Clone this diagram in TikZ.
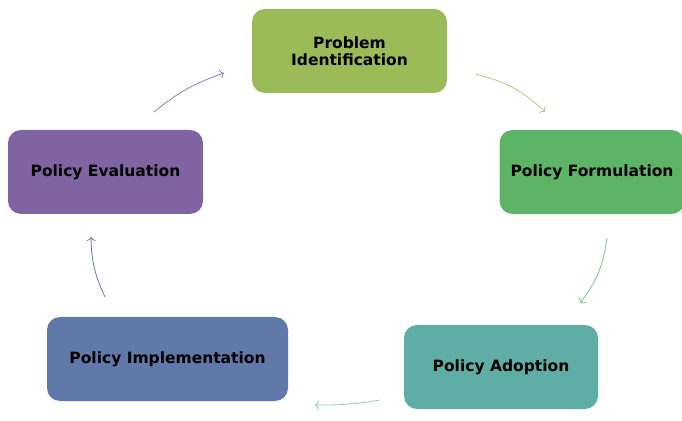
\documentclass[tikz,border=0pt]{standalone}
\usepackage{fontspec}
\setsansfont{DejaVu Sans}
\usepackage{tikz}
\usetikzlibrary{arrows,arrows.meta,positioning}

\definecolor{cIdent}{HTML}{9BBB59}
\definecolor{cForm}{HTML}{5DB467}
\definecolor{cAdopt}{HTML}{5FAEA5}
\definecolor{cImpl}{HTML}{6079A9}
\definecolor{cEval}{HTML}{8064A2}

\begin{document}
\begin{tikzpicture}[x=1pt, y=1pt]
			\tikzstyle{Stage}	= [rounded corners=13pt, inner sep=0pt, minimum height=84pt, align=center, font=\sffamily\bfseries\fontsize{15.5}{17}\selectfont]
			\tikzstyle{Flow}	= [-{To[length=4pt,width=9pt]}, line width=0.8pt]

			\useasboundingbox (0,0) rectangle (682,420);

			\node (pid) at (349.5, 369) [Stage, fill=cIdent, minimum width=195pt] {Problem\\Identification};
			\node (pf)  at (592, 248) [Stage, fill=cForm, minimum width=185pt] {Policy Formulation};
			\node (pa)  at (501, 53) [Stage, fill=cAdopt, minimum width=194pt] {Policy Adoption};
			\node (pim) at (167.5, 61) [Stage, fill=cImpl, minimum width=241pt] {Policy Implementation};
			\node (pev) at (105.5, 248) [Stage, fill=cEval, minimum width=195pt] {Policy Evaluation};

			% free ends of the cycle arrows
			\coordinate (a1s) at (475, 346); \coordinate (a1e) at (545, 308);
			\coordinate (a2s) at (607, 182); \coordinate (a2e) at (580, 117);
			\coordinate (a3s) at (380, 20);  \coordinate (a3e) at (315, 15);
			\coordinate (a4s) at (105, 123); \coordinate (a4e) at (91, 183);
			\coordinate (a5s) at (154, 308); \coordinate (a5e) at (224, 347);

			\draw [Flow, draw=cIdent!75] (a1s) to[bend left=15] (a1e);
			\draw [Flow, draw=cForm!80] (a2s) to[bend left=15] (a2e);
			\draw [Flow, draw=cAdopt!70] (a3s) to[bend left=5] (a3e);
			\draw [Flow, draw=cImpl] (a4s) to[bend left=12] (a4e);
			\draw [Flow, draw=cEval!85] (a5s) to[bend left=10] (a5e);
		\end{tikzpicture}
\end{document}
